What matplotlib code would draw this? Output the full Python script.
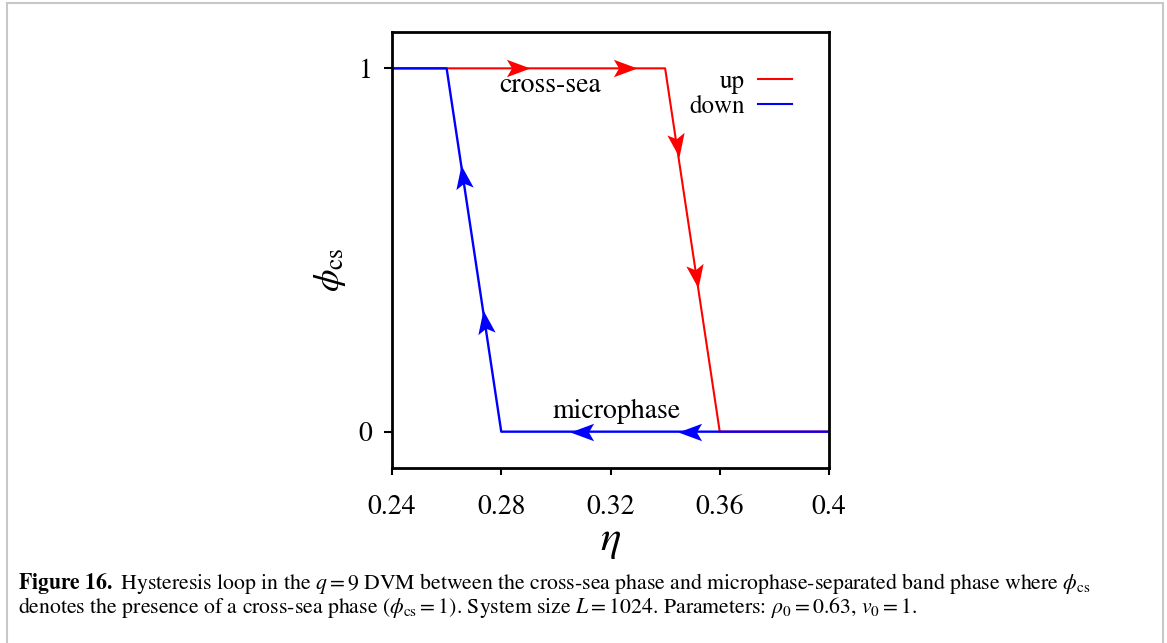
import numpy as np
import matplotlib
matplotlib.use("Agg")
import matplotlib.pyplot as plt
from matplotlib.path import Path
from matplotlib.markers import MarkerStyle
from matplotlib.transforms import Affine2D
from matplotlib.lines import Line2D
from matplotlib.patches import Rectangle

plt.rcParams['font.family'] = ['STIXGeneral', 'DejaVu Serif']
plt.rcParams['mathtext.fontset'] = 'stix'

# sweep of the noise strength eta, order parameter phi_cs
eta_up = [0.24, 0.26, 0.28, 0.30, 0.32, 0.34, 0.36, 0.38, 0.40]
phi_up = [1, 1, 1, 1, 1, 1, 0, 0, 0]
eta_down = [0.40, 0.38, 0.36, 0.34, 0.32, 0.30, 0.28, 0.26, 0.24]
phi_down = [0, 0, 0, 0, 0, 0, 0, 1, 1]

# arrow tips along each branch: (eta, phi, index of the path point it heads away from)
arrows_up = [(0.2905, 1.0, 2), (0.3296, 1.0, 4), (0.3449, 0.755, 5), (0.3521, 0.396, 5)]
arrows_down = [(0.3446, 0.0, 2), (0.3052, 0.0, 4), (0.2733, 0.335, 6), (0.2653, 0.733, 6)]

xticks = [0.24, 0.28, 0.32, 0.36, 0.40]
xticklabels = ['0.24', '0.28', '0.32', '0.36', '0.4']

fig = plt.figure(figsize=(11.67, 6.43), dpi=100)
ax = fig.add_axes([392 / 1167, 1 - 468 / 643, 437 / 1167, 436 / 643])

ax.plot(eta_up, phi_up, color='#ff0000', lw=1.5, label='up')
ax.plot(eta_down, phi_down, color='#0000ff', lw=1.7, label='down')

ax.set_xlim(0.24, 0.40)
ax.set_ylim(-0.1, 1.1)
ax.set_xticks(xticks)
ax.set_xticklabels(xticklabels)
ax.set_yticks([0, 1])
ax.set_yticklabels(['0', '1'])
ax.tick_params(axis='both', direction='out', length=5, width=1.5, labelsize=20, pad=14)
ax.tick_params(axis='y', length=6, pad=8)
for s in ax.spines.values():
    s.set_linewidth(2)

# notched arrow head, tip sitting at the origin
head = Path([(0, 0), (-1, 0.37), (-0.78, 0), (-1, -0.37), (0, 0)],
            [Path.MOVETO, Path.LINETO, Path.LINETO, Path.LINETO, Path.CLOSEPOLY])


def draw_arrows(arrows, xs, ys, color):
    for x, y, i in arrows:
        p0 = ax.transData.transform((xs[i], ys[i]))
        p1 = ax.transData.transform((x, y))
        ang = np.degrees(np.arctan2(p1[1] - p0[1], p1[0] - p0[0]))
        m = MarkerStyle(head, transform=Affine2D().rotate_deg(ang))
        ax.plot(x, y, marker=m, ms=34, color=color, mew=0, ls='none')


draw_arrows(arrows_up, eta_up, phi_up, '#ff0000')
draw_arrows(arrows_down, eta_down, phi_down, '#0000ff')

ax.text(0.298, 0.953, 'cross-sea', fontsize=20, ha='center', va='center')
ax.text(0.3222, 0.055, 'microphase', fontsize=20, ha='center', va='center')

handles = [Line2D([], [], color='#ff0000', lw=1.5), Line2D([], [], color='#0000ff', lw=1.5)]
ax.legend(handles, ['up', 'down'], loc='upper right', bbox_to_anchor=(0.927, 0.925),
          frameon=False, markerfirst=False, fontsize=18, handlelength=1.35,
          handletextpad=0.55, labelspacing=0.05, borderpad=0.2, borderaxespad=0)

ax.set_xlabel(r'$\eta$', fontsize=31, labelpad=2)
fig.text(330 / 1167, 1 - 270 / 643, r'$\phi_{\rm cs}$', fontsize=26,
         rotation=90, ha='center', va='center')

# caption
fig.text(18 / 1167, 1 - 589 / 643,
         r'$\bf{Figure\ 16.}$ Hysteresis loop in the $q=9$ DVM between the cross-sea phase '
         r'and microphase-separated band phase where $\phi_{\rm cs}$',
         fontsize=15.7, ha='left', va='baseline')
fig.text(18 / 1167, 1 - 613 / 643,
         r'denotes the presence of a cross-sea phase ($\phi_{\rm cs}=1$). System size $L=1024$. '
         r'Parameters: $\rho_0=0.63$, $v_0=1$.',
         fontsize=15.7, ha='left', va='baseline')

# page frame
fig.patches.append(Rectangle((7 / 1167, -0.1), 1156 / 1167, 1.1 - 3 / 643,
                             transform=fig.transFigure, fill=False,
                             edgecolor='#c8c8c8', lw=1.5))

fig.savefig('out.png', dpi=100)
